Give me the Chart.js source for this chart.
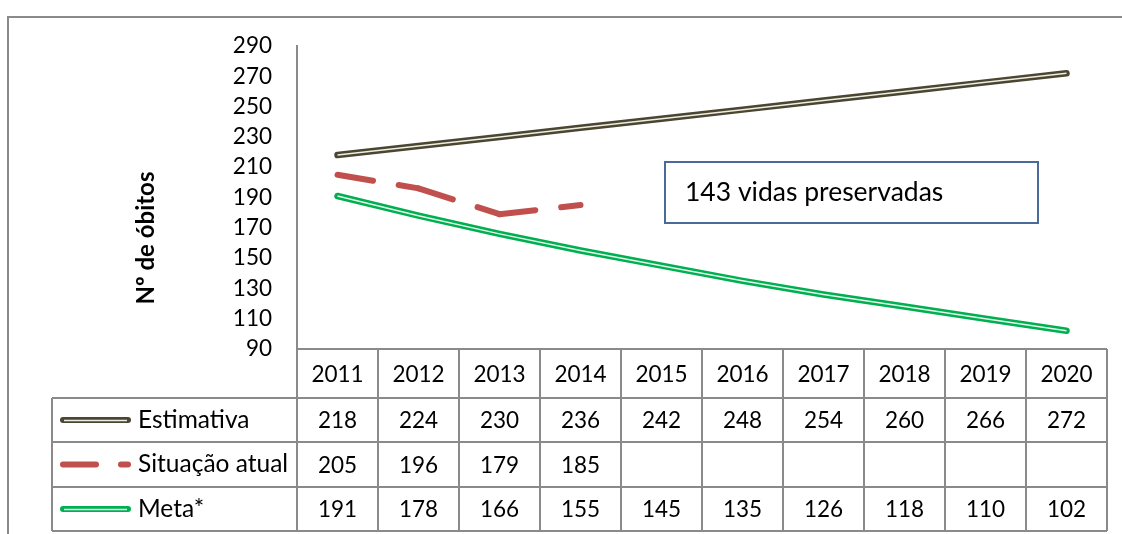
<!DOCTYPE html>
<html><head><meta charset="utf-8">
<script src="https://cdn.jsdelivr.net/npm/chart.js@4/dist/chart.umd.min.js"></script>
<style>html,body{margin:0;padding:0;background:#fff;overflow:hidden}#wrap{width:1122px;height:534px;position:relative}</style>
</head><body><div id="wrap"><canvas id="c" width="1122" height="534"></canvas></div>
<script>
// ---- data ----
const years = ['2011','2012','2013','2014','2015','2016','2017','2018','2019','2020'];
const estimativa = [218,224,230,236,242,248,254,260,266,272];
const situacaoAtual = [205,196,179,185,null,null,null,null,null,null];
const meta = [191,178,166,155,145,135,126,118,110,102];
const seriesNames = ['Estimativa','Situação atual','Meta*'];
const yMin = 90, yMax = 290, yStep = 20;
const yTitle = 'Nº de óbitos';
const noteText = '143 vidas preservadas';

// ---- styles ----
const FONT = 'Lato, "Open Sans", sans-serif';
const COL_EST = '#4b4631', COL_EST_IN = '#efeee4';
const COL_SIT = '#c0504d';
const COL_META = '#00b050', COL_META_IN = '#e2f6ea';
const GRID = '#8a8a8a';
const SIT_DASH = [36, 26];

const framePlugin = {
  id: 'frame',
  beforeDraw(chart) {
    const ctx = chart.ctx;
    ctx.save();
    ctx.fillStyle = '#fff';
    ctx.fillRect(0, 0, chart.width, chart.height);
    ctx.strokeStyle = GRID; ctx.lineWidth = 2;
    ctx.strokeRect(8, 17, 1300, 700);
    ctx.restore();
  }
};

function legendSample(ctx, idx, x0, x1, y) {
  ctx.save();
  ctx.lineCap = 'round';
  if (idx === 1) {
    ctx.strokeStyle = COL_SIT; ctx.lineWidth = 6;
    ctx.beginPath(); ctx.moveTo(x0 + 3, y); ctx.lineTo(x0 + 36, y); ctx.stroke();
    ctx.beginPath(); ctx.moveTo(x1 - 10, y); ctx.lineTo(x1 - 3, y); ctx.stroke();
  } else {
    const outer = idx === 0 ? COL_EST : COL_META;
    const inner = idx === 0 ? COL_EST_IN : COL_META_IN;
    ctx.strokeStyle = outer; ctx.lineWidth = 6;
    ctx.beginPath(); ctx.moveTo(x0 + 3, y); ctx.lineTo(x1 - 3, y); ctx.stroke();
    ctx.strokeStyle = inner; ctx.lineWidth = 1.5; ctx.lineCap = 'butt';
    ctx.beginPath(); ctx.moveTo(x0 + 4, y + 0.5); ctx.lineTo(x1 - 4, y + 0.5); ctx.stroke();
  }
  ctx.restore();
}

const tablePlugin = {
  id: 'dataTable',
  afterDraw(chart, args, opts) {
    const ctx = chart.ctx;
    const xs = chart.scales.x;
    const n = years.length;
    const step = xs.getPixelForValue(1) - xs.getPixelForValue(0);
    const left = xs.getPixelForValue(0) - step / 2;
    const right = xs.getPixelForValue(n - 1) + step / 2;
    const top = chart.chartArea.bottom;
    const rows = [top, top + 49, top + 93, top + 138, top + 182];
    const legLeft = 52;
    ctx.save();
    ctx.strokeStyle = GRID; ctx.lineWidth = 2;
    ctx.beginPath();
    ctx.moveTo(left, rows[0]); ctx.lineTo(right, rows[0]);
    for (let r = 1; r < rows.length; r++) { ctx.moveTo(legLeft, rows[r]); ctx.lineTo(right, rows[r]); }
    ctx.moveTo(legLeft, rows[1]); ctx.lineTo(legLeft, rows[4]);
    for (let i = 0; i <= n; i++) {
      const x = left + i * step;
      ctx.moveTo(x, rows[0]); ctx.lineTo(x, rows[4]);
    }
    ctx.stroke();

    ctx.fillStyle = '#000';
    ctx.font = '22.5px ' + FONT;
    ctx.textAlign = 'center'; ctx.textBaseline = 'middle';
    years.forEach((y, i) => ctx.fillText(y, xs.getPixelForValue(i), (rows[0] + rows[1]) / 2 + 1));
    const series = [estimativa, situacaoAtual, meta];
    series.forEach((arr, r) => {
      const cy = (rows[r + 1] + rows[r + 2]) / 2 + 1;
      arr.forEach((v, i) => { if (v !== null) ctx.fillText(String(v), xs.getPixelForValue(i), cy); });
    });
    ctx.textAlign = 'left';
    ctx.font = '24.5px ' + FONT;
    seriesNames.forEach((name, r) => {
      const cy = (rows[r + 1] + rows[r + 2]) / 2;
      legendSample(ctx, r, 60, 131, cy);
      ctx.fillStyle = '#000';
      ctx.fillText(name, 138, cy);
    });

    // y axis title
    ctx.save();
    ctx.translate(opts.titleX, opts.titleY);
    ctx.rotate(-Math.PI / 2);
    ctx.font = 'bold 24px ' + FONT;
    ctx.textAlign = 'center'; ctx.textBaseline = 'middle';
    ctx.fillText(yTitle, 0, 0);
    ctx.restore();

    // note box
    const b = opts.box;
    ctx.fillStyle = '#fff';
    ctx.fillRect(b.x, b.y, b.w, b.h);
    ctx.strokeStyle = '#4a6a9a'; ctx.lineWidth = 2;
    ctx.strokeRect(b.x, b.y, b.w, b.h);
    ctx.fillStyle = '#000';
    ctx.font = '26.5px ' + FONT;
    ctx.textAlign = 'left'; ctx.textBaseline = 'middle';
    ctx.fillText(noteText, b.x + 20, b.y + b.h / 2);
    ctx.restore();
  }
};

new Chart(document.getElementById('c'), {
  type: 'line',
  data: {
    labels: years,
    datasets: [
      { label: seriesNames[0] + ' inner', data: estimativa, borderColor: COL_EST_IN, borderWidth: 1.5, pointRadius: 0, order: 0, borderCapStyle: 'butt' },
      { label: seriesNames[0], data: estimativa, borderColor: COL_EST, borderWidth: 6.5, pointRadius: 0, order: 1, borderCapStyle: 'round', borderJoinStyle: 'round' },
      { label: seriesNames[2] + ' inner', data: meta, borderColor: COL_META_IN, borderWidth: 1.5, pointRadius: 0, order: 0, borderCapStyle: 'butt' },
      { label: seriesNames[2], data: meta, borderColor: COL_META, borderWidth: 6.5, pointRadius: 0, order: 1, borderCapStyle: 'round', borderJoinStyle: 'round' },
      { label: seriesNames[1], data: situacaoAtual, borderColor: COL_SIT, borderWidth: 6, pointRadius: 0, order: 2,
        borderCapStyle: 'round', borderDash: SIT_DASH,
        segment: { borderDashOffset: ctx => ctx.p0DataIndex * 0.001 } }
    ]
  },
  options: {
    responsive: false,
    animation: false,
    events: [],
    layout: { padding: { left: 0, top: 46, right: 15, bottom: 185 } },
    plugins: {
      legend: { display: false },
      tooltip: { enabled: false },
      dataTable: { titleX: 146, titleY: 238, box: { x: 665, y: 162, w: 373, h: 61 } }
    },
    scales: {
      x: { type: 'category', offset: true, display: false },
      y: {
        min: yMin, max: yMax,
        afterFit: s => { s.width = 297; },
        grid: { display: false, drawTicks: false },
        border: { display: true, color: GRID, width: 2 },
        ticks: { stepSize: yStep, padding: 25, color: '#000', font: { family: FONT, size: 22.5 } }
      }
    }
  },
  plugins: [framePlugin, tablePlugin]
});
</script></body></html>
